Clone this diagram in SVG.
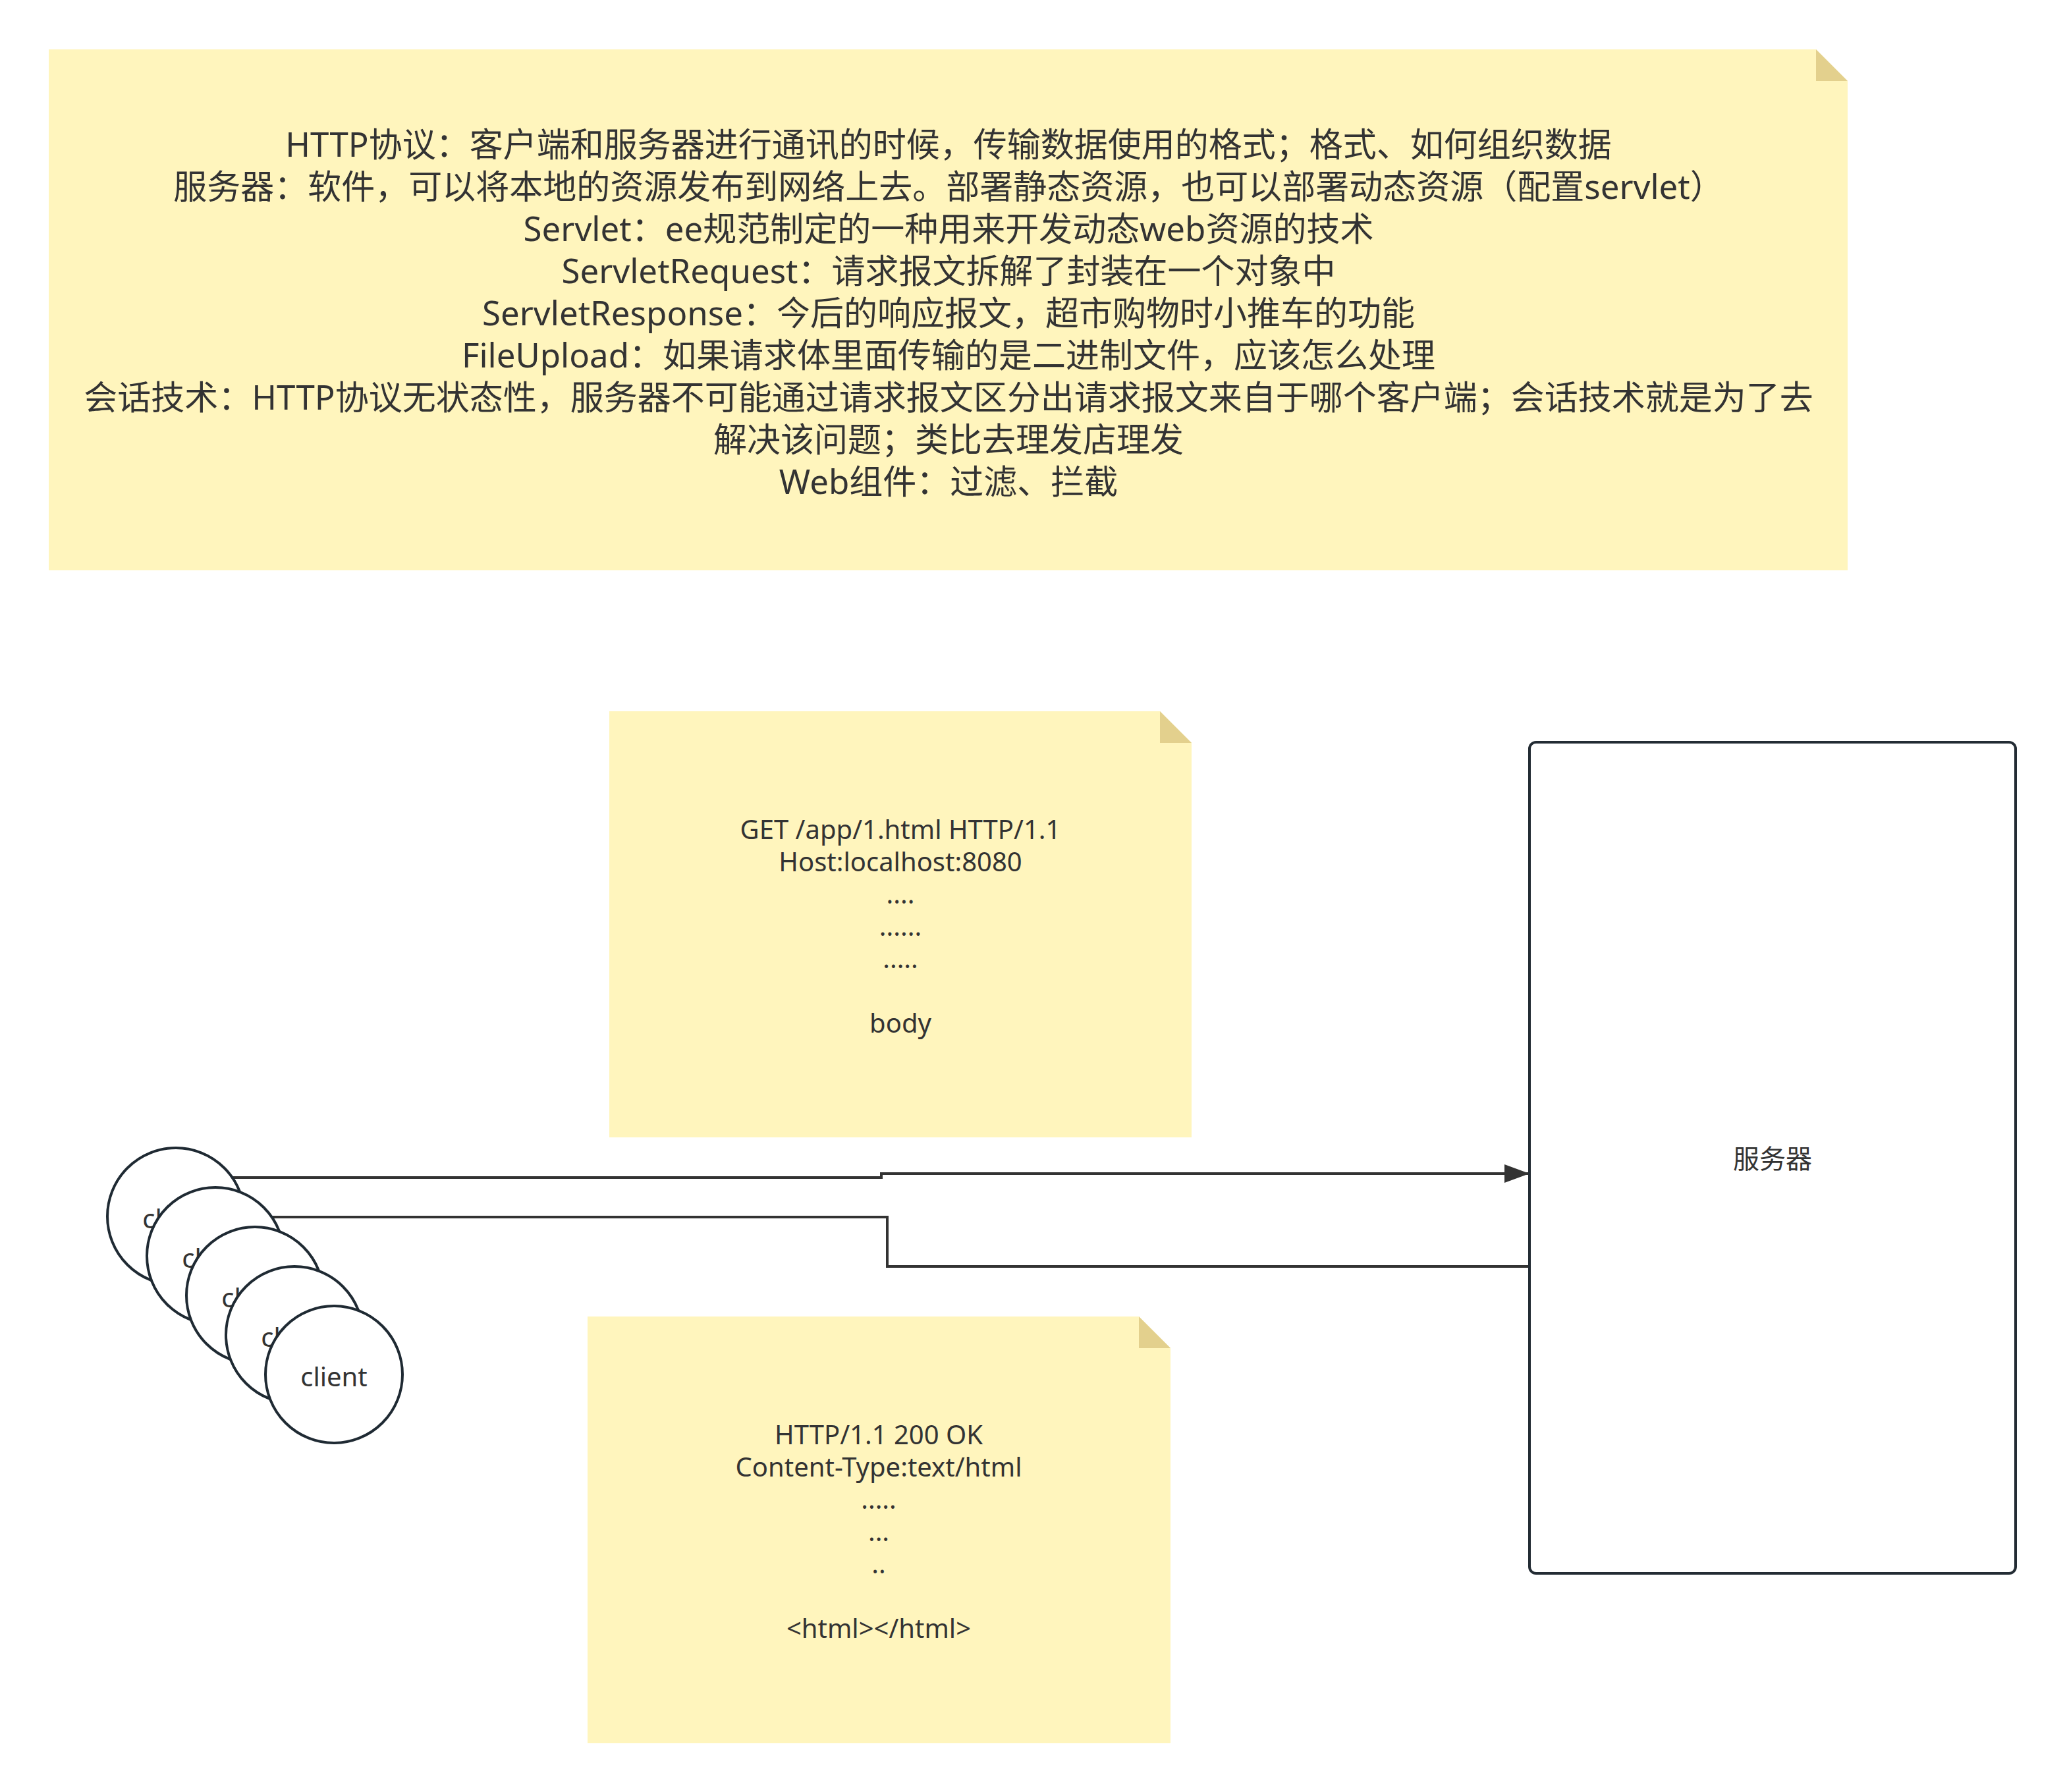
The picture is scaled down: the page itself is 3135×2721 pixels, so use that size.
<svg xmlns="http://www.w3.org/2000/svg" width="3135" height="2721" viewBox="0 0 3135 2721">
<style>
.note{fill:#fff5bd;stroke:none}
.fold{fill:#e3d08d;stroke:none}
.t{font-family:"Noto Sans","Noto Sans CJK SC",sans-serif;fill:#333333;text-anchor:middle}
.big{font-size:51px}
.sm{font-size:40px}
.conn{fill:none;stroke:#333333;stroke-width:4}
.client{fill:#ffffff;stroke:#1f2a33;stroke-width:4}
.server{fill:#ffffff;stroke:#232c34;stroke-width:4}
</style>
<defs>
<marker id="arr" markerUnits="userSpaceOnUse" markerWidth="38" markerHeight="28" refX="38" refY="14" orient="auto">
<path d="M0,0 L38,14 L0,28 Z" fill="#333333"/>
</marker>
</defs>
<rect width="3135" height="2721" fill="#ffffff"/>

<g id="note-main">
<polygon class="note" points="74,75 2757,75 2805,123 2805,866 74,866"/>
<polygon class="fold" points="2757,75 2757,123 2805,123"/>
<text class="t big" x="1440" y="238">HTTP协议：客户端和服务器进行通讯的时候，传输数据使用的格式；格式、如何组织数据</text>
<text class="t big" x="1440" y="302">服务器：软件，可以将本地的资源发布到网络上去。部署静态资源，也可以部署动态资源（配置servlet）</text>
<text class="t big" x="1440" y="366">Servlet：ee规范制定的一种用来开发动态web资源的技术</text>
<text class="t big" x="1440" y="430">ServletRequest：请求报文拆解了封装在一个对象中</text>
<text class="t big" x="1440" y="494">ServletResponse：今后的响应报文，超市购物时小推车的功能</text>
<text class="t big" x="1440" y="558">FileUpload：如果请求体里面传输的是二进制文件，应该怎么处理</text>
<text class="t big" x="1440" y="622">会话技术：HTTP协议无状态性，服务器不可能通过请求报文区分出请求报文来自于哪个客户端；会话技术就是为了去</text>
<text class="t big" x="1440" y="686">解决该问题；类比去理发店理发</text>
<text class="t big" x="1440" y="750">Web组件：过滤、拦截</text>
</g>

<g id="note-request">
<polygon class="note" points="925,1080 1761,1080 1809,1128 1809,1727 925,1727"/>
<polygon class="fold" points="1761,1080 1761,1128 1809,1128"/>
<text class="t sm" x="1367" y="1274">GET /app/1.html HTTP/1.1</text>
<text class="t sm" x="1367" y="1323">Host:localhost:8080</text>
<text class="t sm" x="1367" y="1372">....</text>
<text class="t sm" x="1367" y="1421">......</text>
<text class="t sm" x="1367" y="1470">.....</text>
<text class="t sm" x="1367" y="1568">body</text>
</g>

<g id="note-response">
<polygon class="note" points="892,1999 1729,1999 1777,2047 1777,2647 892,2647"/>
<polygon class="fold" points="1729,1999 1729,2047 1777,2047"/>
<text class="t sm" x="1334" y="2193">HTTP/1.1 200 OK</text>
<text class="t sm" x="1334" y="2242">Content-Type:text/html</text>
<text class="t sm" x="1334" y="2291">.....</text>
<text class="t sm" x="1334" y="2340">...</text>
<text class="t sm" x="1334" y="2389">..</text>
<text class="t sm" x="1334" y="2487">&lt;html&gt;&lt;/html&gt;</text>
</g>

<g id="connectors">
<path class="conn" d="M350,1788 L1338,1788 L1338,1782 L2322,1782" marker-end="url(#arr)"/>
<path class="conn" d="M410,1848 L1347,1848 L1347,1923 L2322,1923"/>
</g>

<g id="client-1">
<circle class="client" cx="267" cy="1847" r="104"/>
<text class="t sm" x="267" y="1865">client</text>
</g>
<g id="client-2">
<circle class="client" cx="327" cy="1907" r="104"/>
<text class="t sm" x="327" y="1925">client</text>
</g>
<g id="client-3">
<circle class="client" cx="387" cy="1967" r="104"/>
<text class="t sm" x="387" y="1985">client</text>
</g>
<g id="client-4">
<circle class="client" cx="447" cy="2027" r="104"/>
<text class="t sm" x="447" y="2045">client</text>
</g>
<g id="client-5">
<circle class="client" cx="507" cy="2087" r="104"/>
<text class="t sm" x="507" y="2105">client</text>
</g>

<g id="server">
<rect class="server" x="2322" y="1127" width="738" height="1262" rx="10" ry="10"/>
<text class="t sm" x="2691" y="1774">服务器</text>
</g>
</svg>
